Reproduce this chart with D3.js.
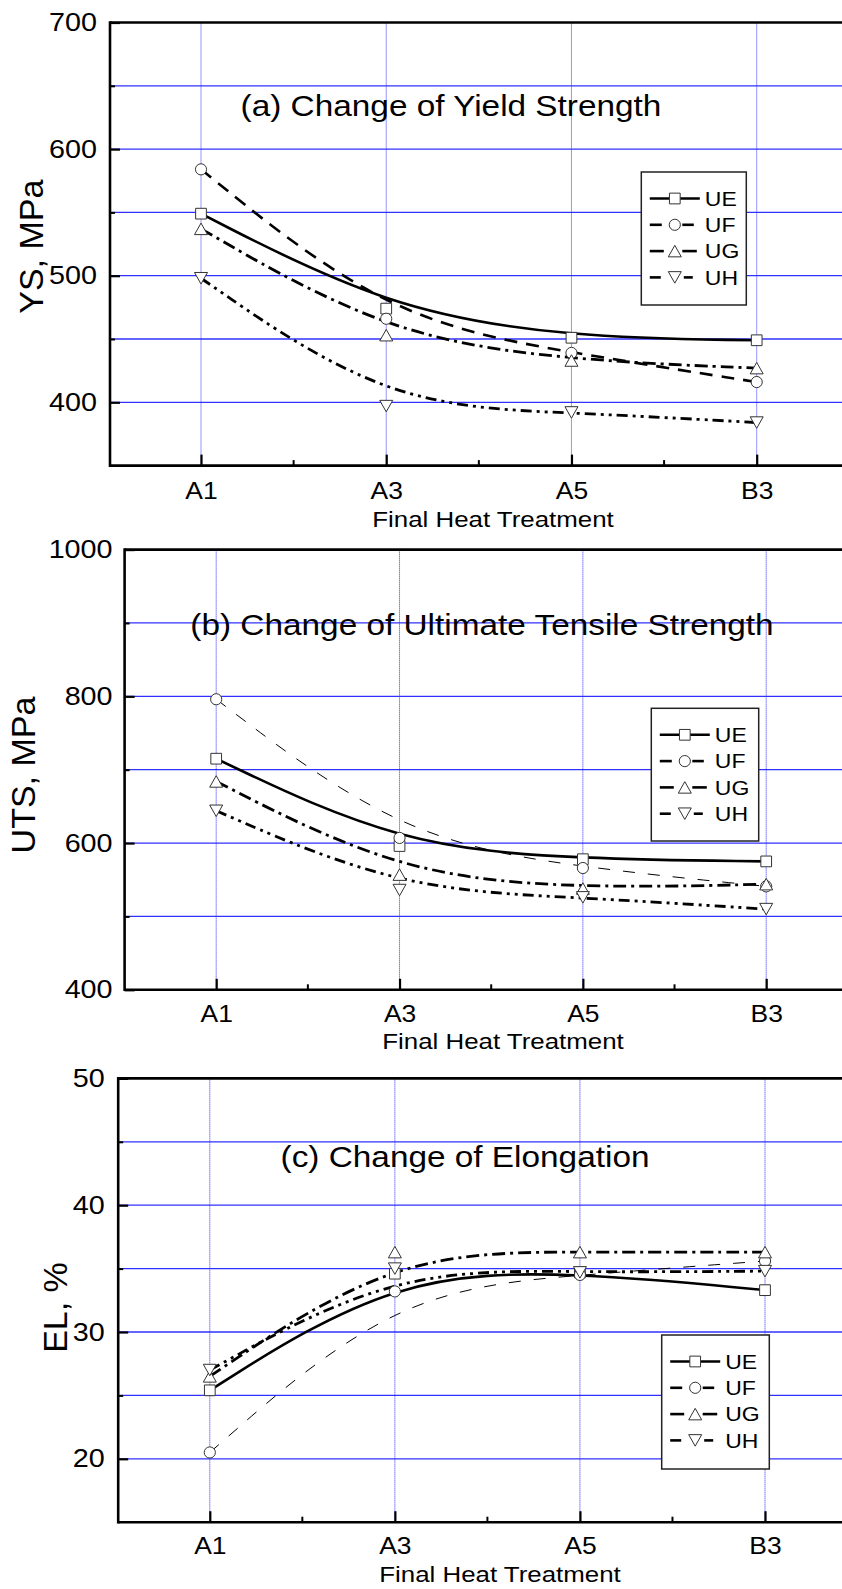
<!DOCTYPE html>
<html>
<head>
<meta charset="utf-8">
<script src="https://cdn.jsdelivr.net/npm/d3@7"></script>
<style>
  html, body { margin: 0; padding: 0; background: #fff; }
  svg { display: block; }
</style>
</head>
<body>
<svg id="fig" width="842" height="1589"></svg>
<script>
// ---- data ----
const treatments = ["A1", "A3", "A5", "B3"];
const alloys = ["UE", "UF", "UG", "UH"];

// Yield strength, MPa
const ysUE = [549, 474, 451, 449];
const ysUF = [584, 466, 439, 416];
const ysUG = [537, 453, 433, 427];
const ysUH = [498, 397, 392, 384];

// Ultimate tensile strength, MPa
const utsUE = [715, 596, 578, 575];
const utsUF = [796, 607, 566, 541];
const utsUG = [684, 557, 538, 544];
const utsUH = [644, 536, 526, 510];

// Elongation, %
const elUE = [25.4, 34.6, 34.7, 33.3];
const elUF = [20.5, 33.2, 34.5, 35.6];
const elUG = [26.5, 36.3, 36.3, 36.3];
const elUH = [27.0, 35.0, 34.7, 34.8];

// axis ticks
const ysDomain = [350, 700];
const ysTicks = [400, 500, 600, 700];
const ysMinor = [450, 550, 650];
const ysGrid = [400, 450, 500, 550, 600, 650];

const utsDomain = [400, 1000];
const utsTicks = [400, 600, 800, 1000];
const utsMinor = [500, 700, 900];
const utsGrid = [500, 600, 700, 800, 900];

const elDomain = [15, 50];
const elTicks = [20, 30, 40, 50];
const elMinor = [25, 35, 45];
const elGrid = [20, 25, 30, 35, 40, 45];

// ---- layout / style ----
const FONT = 'Arial, "Liberation Sans", sans-serif';
const STRETCH = 1.15;   // horizontal widening of the lettering
const RIGHT = 880;      // plot frame runs past the page edge

const panels = [
  {
    title: "(a) Change of Yield Strength", yTitle: "YS, MPa",
    series: [ysUE, ysUF, ysUG, ysUH], domain: ysDomain,
    ticks: ysTicks, minor: ysMinor, grid: ysGrid,
    left: 110, top: 22.5, bottom: 465.6, x0: 201, x1: 756.7,
    titleAt: [451, 116], yTitleAt: [42.7, 246.7], xTitleAt: [493, 527],
    xPad: 17, yPad: 13, thinUF: false,
    legend: { x: 641.3, y: 172, w: 105, h: 133 }
  },
  {
    title: "(b) Change of Ultimate Tensile Strength", yTitle: "UTS, MPa",
    series: [utsUE, utsUF, utsUG, utsUH], domain: utsDomain,
    ticks: utsTicks, minor: utsMinor, grid: utsGrid,
    left: 124.6, top: 549.6, bottom: 989.8, x0: 216.2, x1: 766.2,
    titleAt: [482, 634.5], yTitleAt: [35, 775], xTitleAt: [503, 1049],
    xPad: 15.5, yPad: 12, thinUF: true,
    legend: { x: 651.3, y: 708.3, w: 107.4, h: 132.7 }
  },
  {
    title: "(c) Change of Elongation", yTitle: "EL, %",
    series: [elUE, elUF, elUG, elUH], domain: elDomain,
    ticks: elTicks, minor: elMinor, grid: elGrid,
    left: 118.2, top: 1078.4, bottom: 1522.2, x0: 209.8, x1: 765,
    titleAt: [465, 1167], yTitleAt: [67, 1307.5], xTitleAt: [500, 1582],
    xPad: 15, yPad: 13.5, thinUF: true,
    legend: { x: 661.7, y: 1335, w: 107.6, h: 134 }
  }
];

// line styles per alloy
function lineStyle(k, thinUF) {
  if (k === 0) return { w: 2.6, dash: null };
  if (k === 1) return thinUF ? { w: 1, dash: "12,13" } : { w: 2.6, dash: "13,9" };
  if (k === 2) return { w: 2.8, dash: "13,5,3,5" };
  return { w: 2.8, dash: "11,5,3,5,3,5" };
}

// marker shapes: square, circle, up triangle, down triangle
const triUp = { draw(ctx) { const w = 13, h = 11.5;
  ctx.moveTo(0, -h / 2); ctx.lineTo(w / 2, h / 2); ctx.lineTo(-w / 2, h / 2); ctx.closePath(); } };
const triDown = { draw(ctx) { const w = 13, h = 11.5;
  ctx.moveTo(0, h / 2); ctx.lineTo(w / 2, -h / 2); ctx.lineTo(-w / 2, -h / 2); ctx.closePath(); } };
const markerPaths = [
  d3.symbol().type(d3.symbolSquare).size(115)(),
  d3.symbol().type(d3.symbolCircle).size(98)(),
  d3.symbol().type(triUp)(),
  d3.symbol().type(triDown)()
];

// legend line pieces, relative to left end L, marker centre M and right end R
const legendPieces = [
  (L, M, R) => [[L, R]],
  (L, M, R) => [[L, L + 12], [M + 7.5, M + 19]],
  (L, M, R) => [[L, L + 14], [M + 7.5, M + 22]],
  (L, M, R) => [[L, L + 11], [M + 9, M + 18]]
];

const svg = d3.select("#fig");

panels.forEach(p => {
  const g = svg.append("g");
  const x = d3.scalePoint().domain(treatments).range([p.x0, p.x1]);
  const y = d3.scaleLinear().domain(p.domain).range([p.bottom, p.top]);

  // horizontal grid
  g.append("g").selectAll("line").data(p.grid).join("line")
    .attr("x1", p.left).attr("x2", RIGHT)
    .attr("y1", d => y(d)).attr("y2", d => y(d))
    .attr("stroke", "#3030ff").attr("stroke-width", 1.3);

  // vertical dotted grid at each treatment
  g.append("g").selectAll("line").data(treatments).join("line")
    .attr("x1", d => x(d)).attr("x2", d => x(d))
    .attr("y1", p.top).attr("y2", p.bottom)
    .attr("stroke", "#2a2aff").attr("stroke-width", 1)
    .attr("stroke-dasharray", "1,1");

  // smoothed trend curves
  const line = d3.line()
    .x((d, i) => x(treatments[i]))
    .y(d => y(d))
    .curve(d3.curveBasis);
  p.series.forEach((vals, k) => {
    const st = lineStyle(k, p.thinUF);
    g.append("path")
      .attr("d", line(vals))
      .attr("fill", "none").attr("stroke", "#000")
      .attr("stroke-width", st.w)
      .attr("stroke-dasharray", st.dash);
  });

  // markers
  p.series.forEach((vals, k) => {
    g.append("g").selectAll("path").data(vals).join("path")
      .attr("d", markerPaths[k])
      .attr("transform", (d, i) => `translate(${x(treatments[i])},${y(d)})`)
      .attr("fill", "#fff").attr("stroke", "#333").attr("stroke-width", 1);
  });

  // left axis: major + minor inward ticks
  const yAxis = g.append("g")
    .attr("transform", `translate(${p.left},0)`)
    .call(d3.axisLeft(y).tickValues(p.ticks).tickSize(-10).tickPadding(p.yPad).tickFormat(d3.format("d")))
    .attr("font-family", FONT).attr("font-size", 25);
  yAxis.select(".domain").remove();
  yAxis.selectAll(".tick line").attr("stroke", "#000").attr("stroke-width", 2.2);
  yAxis.selectAll(".tick text")
    .attr("x", null).attr("fill", "#000")
    .attr("transform", `translate(${-p.yPad},0) scale(${STRETCH},1)`);

  const yMinor = g.append("g")
    .attr("transform", `translate(${p.left},0)`)
    .call(d3.axisLeft(y).tickValues(p.minor).tickSize(-5).tickFormat(""));
  yMinor.select(".domain").remove();
  yMinor.selectAll(".tick line").attr("stroke", "#000").attr("stroke-width", 2);

  // bottom axis: category ticks + minor ticks halfway between
  const xAxis = g.append("g")
    .attr("transform", `translate(0,${p.bottom})`)
    .call(d3.axisBottom(x).tickSize(-11).tickPadding(p.xPad))
    .attr("font-family", FONT).attr("font-size", 23);
  xAxis.select(".domain").remove();
  xAxis.selectAll(".tick line").attr("stroke", "#000").attr("stroke-width", 2.2);
  xAxis.selectAll(".tick text")
    .attr("y", null).attr("fill", "#000")
    .attr("transform", `translate(0,${p.xPad}) scale(${STRETCH},1)`);

  const mids = d3.pairs(treatments).map(([a, b]) => (x(a) + x(b)) / 2);
  g.append("g").selectAll("line").data(mids).join("line")
    .attr("x1", d => d).attr("x2", d => d)
    .attr("y1", p.bottom).attr("y2", p.bottom - 5.5)
    .attr("stroke", "#000").attr("stroke-width", 2);

  // frame
  const frame = g.append("g").attr("stroke", "#000").attr("stroke-width", 2.6).attr("fill", "none");
  frame.append("line").attr("x1", p.left).attr("x2", RIGHT).attr("y1", p.top).attr("y2", p.top);
  frame.append("line").attr("x1", p.left).attr("x2", RIGHT).attr("y1", p.bottom).attr("y2", p.bottom);
  frame.append("line").attr("x1", p.left).attr("x2", p.left).attr("y1", p.top - 1.3).attr("y2", p.bottom + 1.3);

  // panel title
  g.append("text")
    .attr("transform", `translate(${p.titleAt[0]},${p.titleAt[1]}) scale(${STRETCH},1)`)
    .attr("text-anchor", "middle")
    .attr("font-family", FONT).attr("font-size", 29)
    .text(p.title);

  // axis titles
  g.append("text")
    .attr("transform", `translate(${p.xTitleAt[0]},${p.xTitleAt[1]}) scale(${STRETCH},1)`)
    .attr("text-anchor", "middle")
    .attr("font-family", FONT).attr("font-size", 22.5)
    .text("Final Heat Treatment");

  g.append("text")
    .attr("transform", `translate(${p.yTitleAt[0]},${p.yTitleAt[1]}) rotate(-90)`)
    .attr("text-anchor", "middle")
    .attr("font-family", FONT).attr("font-size", 34)
    .text(p.yTitle);

  // legend
  const lg = p.legend;
  const leg = g.append("g");
  leg.append("rect")
    .attr("x", lg.x).attr("y", lg.y).attr("width", lg.w).attr("height", lg.h)
    .attr("fill", "#fff").attr("stroke", "#222").attr("stroke-width", 1.5);
  const L = lg.x + 8.5, M = lg.x + 33.5, R = lg.x + 58.5;
  alloys.forEach((name, k) => {
    const cy = lg.y + 26.5 + k * 26.3;
    legendPieces[k](L, M, R).forEach(([a, b]) => {
      leg.append("line").attr("x1", a).attr("x2", b).attr("y1", cy).attr("y2", cy)
        .attr("stroke", "#000").attr("stroke-width", 2.6);
    });
    leg.append("path").attr("d", markerPaths[k])
      .attr("transform", `translate(${M},${cy})`)
      .attr("fill", "#fff").attr("stroke", "#333").attr("stroke-width", 1);
    leg.append("text")
      .attr("transform", `translate(${lg.x + 63.5},${cy + 7.2}) scale(${STRETCH},1)`)
      .attr("font-family", FONT).attr("font-size", 20)
      .text(name);
  });
});
</script>
</body>
</html>
